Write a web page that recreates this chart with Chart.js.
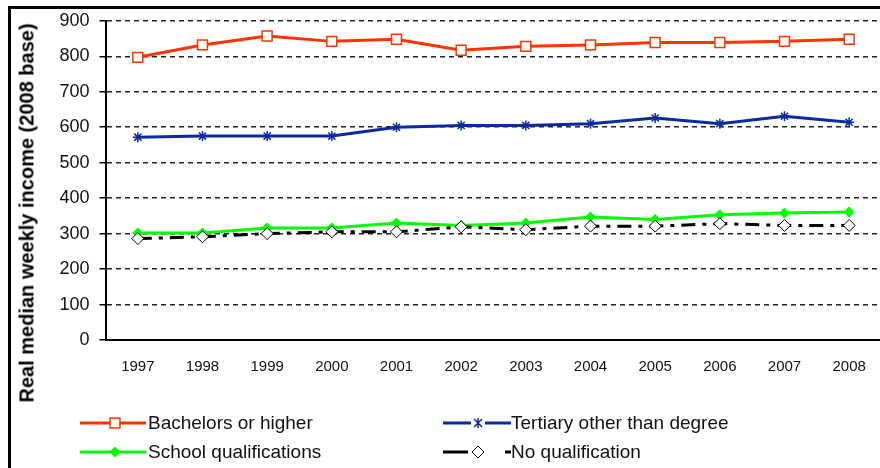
<!DOCTYPE html>
<html>
<head>
<meta charset="utf-8">
<script src="https://cdn.jsdelivr.net/npm/chart.js@4.4.0/dist/chart.umd.min.js"></script>
<style>
  html, body { margin: 0; padding: 0; background: #fff; overflow: hidden; width: 880px; height: 468px; }
  #frame { position: absolute; left: 8px; top: 6px; width: 900px; height: 480px;
           border-left: 3px solid #000; border-top: 3px solid #000; }
  #wrap { position: absolute; left: 0; top: 0; width: 890px; height: 468px; }
  #ytitle { position: absolute; left: 27px; top: 213px; transform: translate(-50%, -50%) rotate(-90deg);
            white-space: nowrap; font: bold 20px "Liberation Sans", Arial, sans-serif; color: #000; }
  .lg { position: absolute; height: 24px; display: flex; align-items: center;
        font: 19px "Liberation Sans", Arial, sans-serif; color: #111; white-space: nowrap; }
  .lg svg { display: block; margin-right: 0; }
</style>
</head>
<body>
<div id="frame"></div>
<div id="wrap"><canvas id="chart"></canvas></div>
<div id="ytitle">Real median weekly income (2008 base)</div>
<div id="legend"></div>
<script>
'use strict';

// Real median weekly income by highest qualification (2008 base)
const years = ['1997', '1998', '1999', '2000', '2001', '2002', '2003', '2004', '2005', '2006', '2007', '2008'];
const bachelors = [797, 832, 857, 842, 848, 817, 828, 832, 839, 839, 842, 848];
const tertiary = [572, 575, 575, 575, 600, 605, 605, 610, 626, 610, 631, 614];
const school = [302, 302, 316, 316, 330, 323, 330, 347, 340, 353, 358, 361];
const noQual = [286, 291, 300, 305, 305, 319, 311, 321, 321, 328, 323, 323];
const yTicks = [0, 100, 200, 300, 400, 500, 600, 700, 800, 900];

const FONT = '"Liberation Sans", Arial, sans-serif';
const RED = '#ff3300';
const BLUE = '#0a2a9e';
const GREEN = '#00ff00';

const datasets = [
  {
    label: 'Bachelors or higher', data: bachelors, order: 3,
    borderColor: RED, borderWidth: 3,
    pointStyle: 'rect', pointRadius: 7, pointBorderWidth: 1.5,
    pointBackgroundColor: '#fff', pointBorderColor: RED
  },
  {
    label: 'Tertiary other than degree', data: tertiary, order: 2,
    borderColor: BLUE, borderWidth: 3,
    pointStyle: 'star', pointRadius: 5, pointBorderWidth: 1.5,
    pointBackgroundColor: BLUE, pointBorderColor: BLUE
  },
  {
    label: 'School qualifications', data: school, order: 1,
    borderColor: GREEN, borderWidth: 3,
    pointStyle: 'rectRot', pointRadius: 5, pointBorderWidth: 1,
    pointBackgroundColor: GREEN, pointBorderColor: GREEN
  },
  {
    label: 'No qualification', data: noQual, order: 0,
    borderColor: '#000', borderWidth: 3, borderDash: [14, 7, 4, 7],
    pointStyle: 'rectRot', pointRadius: 6, pointBorderWidth: 1,
    pointBackgroundColor: '#fff', pointBorderColor: '#000'
  }
];

new Chart(document.getElementById('chart'), {
  type: 'line',
  data: { labels: years, datasets },
  options: {
    responsive: true,
    maintainAspectRatio: false,
    animation: false,
    layout: { padding: { left: 0, right: 1, top: 20, bottom: 0 } },
    elements: { line: { tension: 0 } },
    plugins: { legend: { display: false }, tooltip: { enabled: false } },
    scales: {
      x: {
        offset: true,
        grid: { display: false },
        border: { display: true, color: '#000', width: 2 },
        ticks: { color: '#111', padding: 10, maxRotation: 0, font: { family: FONT, size: 15 } },
        afterFit: (s) => { s.height = 128; }
      },
      y: {
        min: 0, max: 900,
        afterBuildTicks: (s) => { s.ticks = yTicks.map(v => ({ value: v })); },
        grid: { color: '#222', lineWidth: 1.5, tickLength: 6, tickColor: '#000', tickWidth: 1.5 },
        border: { display: true, color: '#000', width: 2, dash: [5, 4] },
        ticks: { color: '#111', padding: 10, font: { family: FONT, size: 18 } },
        afterFit: (s) => { s.width = 105.5; }
      }
    }
  }
});

// legend samples built from the dataset styles
const legendPos = [
  { x: 80, y: 423 }, { x: 443, y: 423 },
  { x: 80, y: 452 }, { x: 443, y: 452 }
];
const legendOrder = [0, 1, 2, 3];

function markerSvg(ds, cx, cy) {
  const r = ds.pointRadius;
  const fill = ds.pointBackgroundColor, stroke = ds.pointBorderColor, sw = ds.pointBorderWidth;
  if (ds.pointStyle === 'rect') {
    const h = r * Math.SQRT1_2;
    return `<rect x="${cx - h}" y="${cy - h}" width="${2 * h}" height="${2 * h}" fill="${fill}" stroke="${stroke}" stroke-width="${sw}"/>`;
  }
  if (ds.pointStyle === 'rectRot') {
    return `<polygon points="${cx},${cy - r} ${cx + r},${cy} ${cx},${cy + r} ${cx - r},${cy}" fill="${fill}" stroke="${stroke}" stroke-width="${sw}"/>`;
  }
  const d = r * 0.8;
  return `<path d="M${cx - d},${cy - d}L${cx + d},${cy + d}M${cx - d},${cy + d}L${cx + d},${cy - d}M${cx},${cy - r}L${cx},${cy + r}" stroke="${stroke}" stroke-width="${sw}"/>`;
}

const legendEl = document.getElementById('legend');
legendOrder.forEach((idx, k) => {
  const ds = datasets[idx];
  const p = legendPos[k];
  const w = 66, cy = 12, cx = 33;
  let lines;
  if (ds.borderDash) {
    lines = `<line x1="0" y1="${cy}" x2="25" y2="${cy}" stroke="${ds.borderColor}" stroke-width="3"/>` +
            `<line x1="62" y1="${cy}" x2="68" y2="${cy}" stroke="${ds.borderColor}" stroke-width="3"/>`;
  } else if (ds.pointStyle === 'star') {
    lines = `<line x1="0" y1="${cy}" x2="28" y2="${cy}" stroke="${ds.borderColor}" stroke-width="3"/>` +
            `<line x1="42" y1="${cy}" x2="68" y2="${cy}" stroke="${ds.borderColor}" stroke-width="3"/>`;
  } else {
    lines = `<line x1="0" y1="${cy}" x2="66" y2="${cy}" stroke="${ds.borderColor}" stroke-width="3"/>`;
  }
  const div = document.createElement('div');
  div.className = 'lg';
  div.style.left = p.x + 'px';
  div.style.top = (p.y - 12) + 'px';
  div.innerHTML = `<svg width="${w + 2}" height="24">${lines}${markerSvg(ds, cx + 2, cy)}</svg><span>${ds.label}</span>`;
  legendEl.appendChild(div);
});
</script>
</body>
</html>
